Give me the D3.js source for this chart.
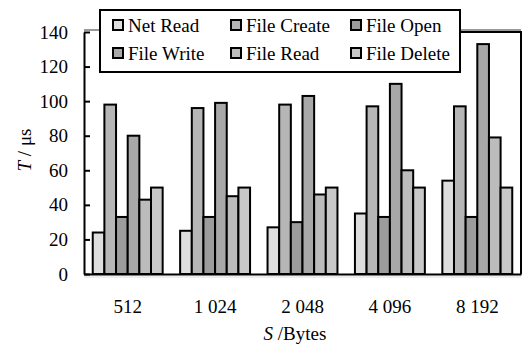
<!DOCTYPE html>
<html><head><meta charset="utf-8">
<script src="https://cdn.jsdelivr.net/npm/d3@7/dist/d3.min.js"></script>
<style>body{margin:0;background:#fff}svg{display:block}</style>
</head><body>
<script>
const categories = ["512", "1 024", "2 048", "4 096", "8 192"];
const seriesNames = ["Net Read", "File Create", "File Open", "File Write", "File Read", "File Delete"];
const netRead    = [24, 25, 27, 35, 54];
const fileCreate = [98, 96, 98, 97, 97];
const fileOpen   = [33, 33, 30, 33, 33];
const fileWrite  = [80, 99, 103, 110, 133];
const fileRead   = [43, 45, 46, 60, 79];
const fileDelete = [50, 50, 50, 50, 50];
const yTicks = [0, 20, 40, 60, 80, 100, 120, 140];
const colors = ["#dedede", "#b6b6b6", "#9c9c9c", "#a8a8a8", "#bcbcbc", "#c8c8c8"];

const seriesValues = [netRead, fileCreate, fileOpen, fileWrite, fileRead, fileDelete];
const W = 522, H = 345;
const m = {left: 84, right: 521, top: 32, bottom: 274};
const FONT = "Liberation Serif";
const FS = "19px";

const svg = d3.select("body").append("svg").attr("width", W).attr("height", H);

const x0 = d3.scaleBand().domain(categories).range([m.left, m.right]).paddingInner(0.2).paddingOuter(0.1);
const x1 = d3.scaleBand().domain(seriesNames).range([0, x0.bandwidth()]);
const y = d3.scaleLinear().domain([0, 140]).range([m.bottom, m.top]);

// bars
categories.forEach((c, ci) => {
  svg.append("g").selectAll("rect").data(seriesNames).join("rect")
    .attr("x", s => x0(c) + x1(s))
    .attr("y", (s, si) => y(seriesValues[si][ci]))
    .attr("width", x1.bandwidth())
    .attr("height", (s, si) => y(0) - y(seriesValues[si][ci]))
    .attr("fill", (s, si) => colors[si])
    .attr("stroke", "#000").attr("stroke-width", 2);
});

// frame lines
svg.append("line").attr("x1", m.left).attr("x2", m.right).attr("y1", m.top - 2).attr("y2", m.top - 2)
  .attr("stroke", "#999").attr("stroke-width", 2);
svg.append("line").attr("x1", 440).attr("x2", m.right).attr("y1", m.top).attr("y2", m.top)
  .attr("stroke", "#000").attr("stroke-width", 2);
svg.append("line").attr("x1", m.right).attr("x2", m.right).attr("y1", m.top - 1).attr("y2", m.bottom)
  .attr("stroke", "#000").attr("stroke-width", 2);
svg.append("line").attr("x1", m.left).attr("x2", m.right).attr("y1", m.bottom + 3).attr("y2", m.bottom + 3)
  .attr("stroke", "#ddd").attr("stroke-width", 1);

// y axis
const yAxis = svg.append("g").attr("transform", `translate(${m.left},0)`)
  .call(d3.axisLeft(y).tickValues(yTicks).tickSizeInner(-6).tickSizeOuter(0).tickPadding(16));
yAxis.attr("font-family", null).attr("font-size", null);
yAxis.select(".domain").attr("stroke", "#000").attr("stroke-width", 2);
yAxis.selectAll(".tick line").attr("stroke", "#000").attr("stroke-width", 2);
yAxis.selectAll(".tick text").attr("fill", "#000").style("font-family", FONT).style("font-size", FS);

// x axis
const xAxis = svg.append("g").attr("transform", `translate(0,${m.bottom})`)
  .call(d3.axisBottom(x0).tickSize(0).tickPadding(26));
xAxis.attr("font-family", null).attr("font-size", null);
xAxis.select(".domain").attr("stroke", "#000").attr("stroke-width", 2);
xAxis.selectAll(".tick text").attr("fill", "#000").style("font-family", FONT).style("font-size", FS);

// axis titles
const yt = svg.append("text").attr("transform", "translate(31,150) rotate(-90)")
  .attr("text-anchor", "middle").style("font-family", FONT).style("font-size", FS);
yt.append("tspan").attr("font-style", "italic").text("T");
yt.append("tspan").text(" / μs");
const xt = svg.append("text").attr("x", 295).attr("y", 340).attr("text-anchor", "middle")
  .style("font-family", FONT).style("font-size", FS);
xt.append("tspan").attr("font-style", "italic").text("S");
xt.append("tspan").text(" /Bytes");

// legend
const lg = svg.append("g");
lg.append("rect").attr("x", 100).attr("y", 10).attr("width", 360).attr("height", 62)
  .attr("fill", "#fff").attr("stroke", "#000").attr("stroke-width", 2);
const colX = [113, 231, 351];
const rowY = [25, 53];
seriesNames.forEach((s, i) => {
  const cx = colX[i % 3], cy = rowY[Math.floor(i / 3)];
  lg.append("rect").attr("x", cx).attr("y", cy - 5).attr("width", 10).attr("height", 10)
    .attr("fill", colors[i]).attr("stroke", "#000").attr("stroke-width", 2);
  lg.append("text").attr("x", cx + 15).attr("y", cy).attr("dy", "0.35em")
    .style("font-family", FONT).style("font-size", FS).text(s);
});
</script>
</body></html>
